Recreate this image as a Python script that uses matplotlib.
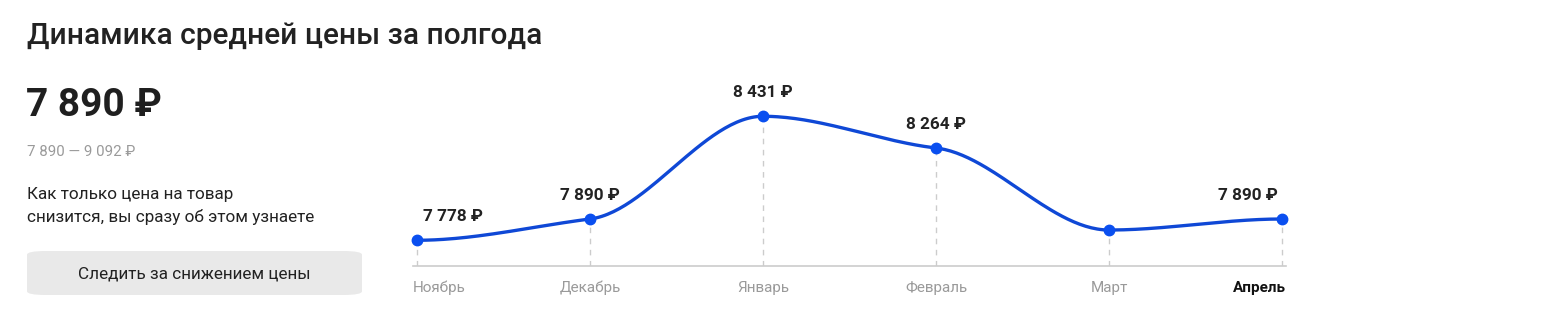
import numpy as np
import matplotlib.pyplot as plt
from matplotlib.patches import FancyBboxPatch

plt.rcParams['font.family'] = ['Roboto', 'DejaVu Sans']

months = ['Ноябрь', 'Декабрь', 'Январь', 'Февраль', 'Март', 'Апрель']
prices = [7778, 7890, 8431, 8264, 7832, 7890]
price_labels = ['7 778 ₽', '7 890 ₽', '8 431 ₽', '8 264 ₽', '', '7 890 ₽']

title = 'Динамика средней цены за полгода'
current = '7 890 ₽'
price_range = '7 890 — 9 092 ₽'
note = 'Как только цена на товар\nснизится, вы сразу об этом узнаете'
button = 'Следить за снижением цены'

blue = '#0f48d6'
W, H = 1567, 316


def smooth(x, y, k=0.35, n=60):
    # сглаженная линия: эрмитов сплайн с пологими касательными
    x = np.asarray(x, float)
    y = np.asarray(y, float)
    m = np.zeros_like(y)
    for i in range(1, len(y) - 1):
        a = y[i] - y[i - 1]
        b = y[i + 1] - y[i]
        if a * b > 0:
            m[i] = k * (y[i + 1] - y[i - 1]) / 2
    xs, ys = [], []
    for i in range(len(x) - 1):
        h = x[i + 1] - x[i]
        t = np.linspace(0, 1, n)
        h00 = 2 * t**3 - 3 * t**2 + 1
        h10 = t**3 - 2 * t**2 + t
        h01 = -2 * t**3 + 3 * t**2
        h11 = t**3 - t**2
        xs.append(x[i] + t * h)
        ys.append(h00 * y[i] + h10 * h * m[i] + h01 * y[i + 1] + h11 * h * m[i + 1])
    return np.concatenate(xs), np.concatenate(ys)


fig = plt.figure(figsize=(W / 100, H / 100), dpi=100)

# текстовая часть слева
fig.text(27 / W, 1 - 36 / H, title, fontsize=21.5, weight='medium', color='#222222', va='center')
fig.text(26 / W, 1 - 106 / H, current, fontsize=28, weight='bold', color='#1f1f1f', va='center')
fig.text(27 / W, 1 - 152 / H, price_range, fontsize=10.8, color='#9a9a9a', va='center')
fig.text(27 / W, 1 - 206 / H, note, fontsize=12.3, color='#222222', va='center', linespacing=1.58)
btn = FancyBboxPatch((27 / W, 1 - 295 / H), 335 / W, 44 / H,
                     boxstyle='round,pad=0,rounding_size=0.012', transform=fig.transFigure,
                     facecolor='#e9e9e9', edgecolor='none')
fig.patches.append(btn)
fig.text(194 / W, 1 - 274 / H, button, fontsize=12.3, color='#222222', ha='center', va='center')

# график
ax = fig.add_axes([413 / W, (H - 266) / H, 873 / W, 186 / H])
x = np.arange(len(months))
ax.set_xlim(-4 / 173, 5 + 4 / 173)
ax.set_ylim(7642.5, 8622)
ax.axis('off')
ax.axhline(7642.5, color='#cccccc', lw=1.2, clip_on=False)

for xi, p in zip(x, prices):
    ax.plot([xi, xi], [7642.5, p], ls=(0, (4, 4)), color='#cccccc', lw=1)

cx, cy = smooth(x, prices)
ax.plot(cx, cy, color=blue, lw=2.4, solid_capstyle='round', zorder=3)
ax.plot(x, prices, 'o', color='#0a4ff0', ms=7.5, zorder=4, clip_on=False)

for i, (xi, p, lab) in enumerate(zip(x, prices, price_labels)):
    if not lab:
        continue
    ha = 'center'
    dx = 0
    if i == 0:
        ha, dx = 'left', 6
    elif i == len(x) - 1:
        ha, dx = 'right', -4
    ax.annotate(lab, (xi, p), xytext=(dx * 0.72, 17), textcoords='offset points',
                ha=ha, va='center', fontsize=12.3, weight='bold', color='#222222')

for i, (xi, m) in enumerate(zip(x, months)):
    ha, dx, col, wt = 'center', 0, '#9a9a9a', 'normal'
    if i == 0:
        ha, dx = 'left', -4
    elif i == len(x) - 1:
        ha, dx, col, wt = 'right', 4, '#111111', 'bold'
    ax.annotate(m, (xi, 7642.5), xytext=(dx * 0.72, -16), textcoords='offset points',
                ha=ha, va='center', fontsize=11, color=col, weight=wt)

fig.savefig('out.png', dpi=100)
